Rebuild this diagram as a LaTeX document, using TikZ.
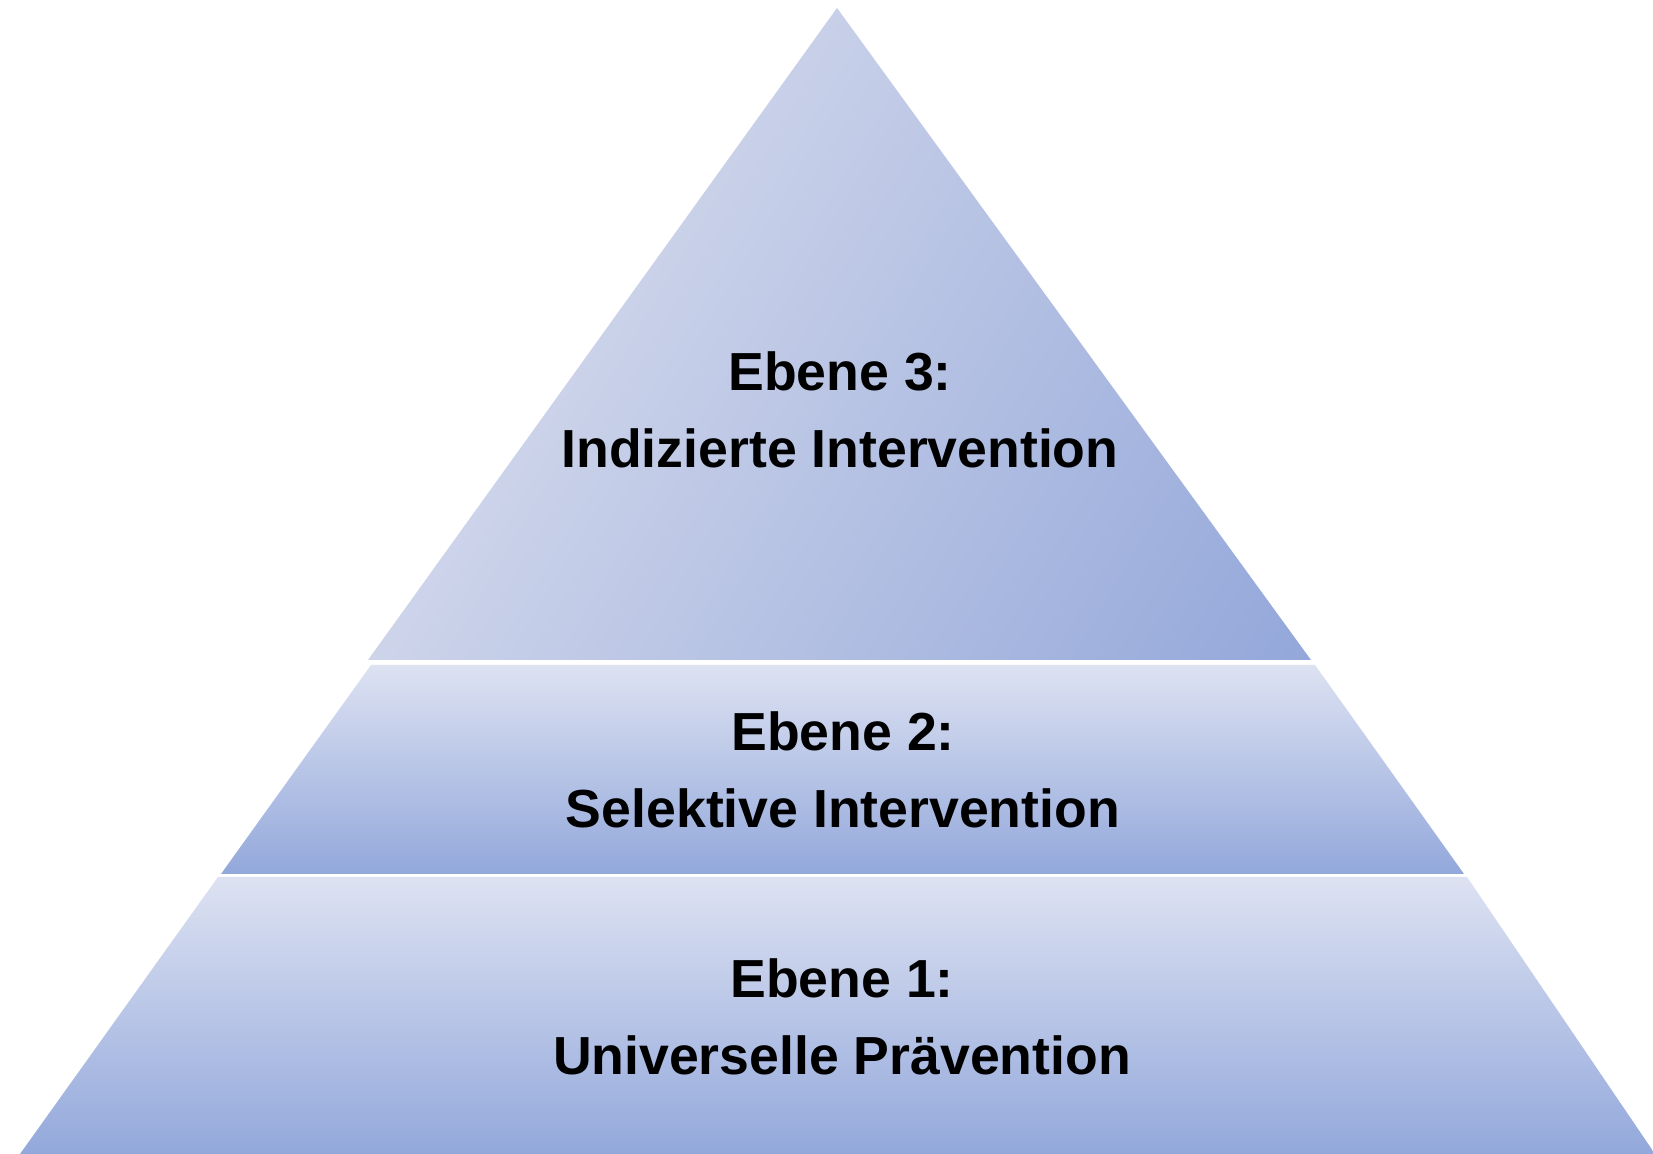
\documentclass[tikz,border=0pt]{standalone}
\usepackage{fontspec}
\setmainfont{Liberation Sans}
\begin{document}
\begin{tikzpicture}[x=0.5pt,y=0.5pt,
  label/.style={align=center,font=\fontsize{26.8}{38.5}\selectfont\bfseries,text=black},
  band/.style={top color=bandlight,bottom color=banddark}]
\definecolor{bandlight}{HTML}{DDE2F2}
\definecolor{banddark}{HTML}{93A8DB}
\definecolor{toplight}{HTML}{CDD4EA}
\definecolor{topdark}{HTML}{93A7DA}
\useasboundingbox (0,0) rectangle (1653,1154);
% level 3: top triangle, shaded diagonally towards its lower right corner
\begin{scope}
  \clip (837,1146) -- (1311,494) -- (368,494) -- cycle;
  \shade[left color=toplight,right color=topdark,
         transform canvas={shift={(368,494)},rotate=-30.7}]
    (0,-20) rectangle (811,830);
\end{scope}
% level 2: middle band
\shade[band] (371,489) -- (1315,489) -- (1464,280) -- (221,280) -- cycle;
% level 1: bottom band
\shade[band] (218,277) -- (1467,277) -- (1655,0) -- (20,0) -- cycle;
\node[label] (l3) at (840,744) {Ebene 3:\\Indizierte Intervention};
\node[label] (l2) at (843,384) {Ebene 2:\\Selektive Intervention};
\node[label] (l1) at (842,137) {Ebene 1:\\Universelle Prävention};
\end{tikzpicture}
\end{document}
